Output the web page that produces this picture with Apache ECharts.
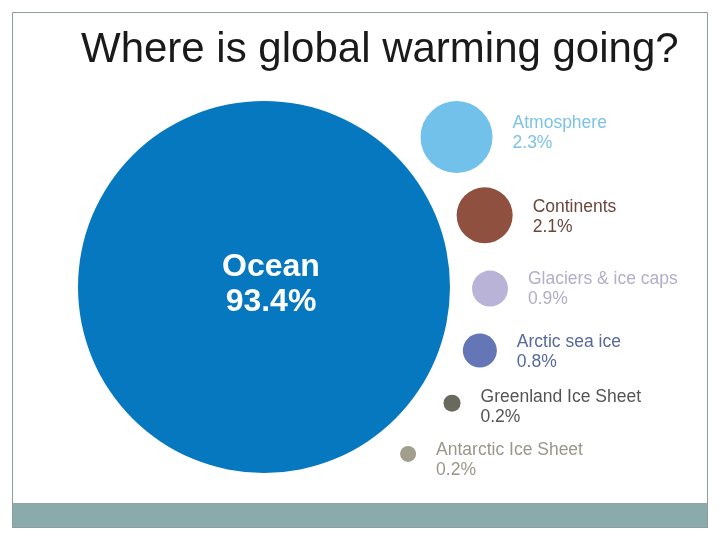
<!DOCTYPE html>
<html>
<head>
<meta charset="utf-8">
<script src="https://cdn.jsdelivr.net/npm/echarts@6/dist/echarts.min.js"></script>
<style>html,body{margin:0;padding:0;background:#fff}#c{width:720px;height:540px}</style>
</head>
<body>
<div id="c"></div>
<script>
// ---- data ----
const titleText = 'Where is global warming going?';
const categories = ['Ocean', 'Atmosphere', 'Continents', 'Glaciers & ice caps', 'Arctic sea ice', 'Greenland Ice Sheet', 'Antarctic Ice Sheet'];
const shares = [93.4, 2.3, 2.1, 0.9, 0.8, 0.2, 0.2];

// ---- layout (bubble placement around the ocean bubble, polar: distance px, angle deg clockwise from right) ----
const layoutDist  = [0, 244, 232, 226, 225, 221, 220.5];
const layoutAngle = [0, -37.9, -18, 0.4, 16.4, 31.7, 49.2];
const layoutDiam  = [372, 72, 56, 36, 34, 17, 16];
const labelDy     = [-2.5, -4, 2, 1, 2, 4, 6];

// ---- styles ----
const FONT = "'Liberation Sans', Arial, Helvetica, sans-serif";
const bubbleColors = ['#0578c0', '#71c1ea', '#8f5040', '#b9b3d8', '#6476b6', '#6a695e', '#a19e8d'];
const labelColors  = ['#ffffff', '#7cc3e6', '#6a463d', '#b2aecb', '#56689e', '#545454', '#9a978a'];

const seriesData = categories.map((name, i) => ({
  name: name,
  value: [layoutDist[i], (layoutAngle[i] + 360) % 360, shares[i]],
  symbolSize: layoutDiam[i],
  itemStyle: { color: bubbleColors[i], opacity: 1 },
  label: i === 0 ? {
    show: true, position: 'inside', offset: [7, labelDy[i]],
    color: labelColors[i], fontSize: 32, fontWeight: 'bold', lineHeight: 35, align: 'center',
    fontFamily: FONT
  } : {
    show: true, position: 'right', distance: 20, offset: [0, labelDy[i]],
    color: labelColors[i], fontSize: 17.5, lineHeight: 20, align: 'left',
    fontFamily: FONT
  }
}));

const chart = echarts.init(document.getElementById('c'), null, { renderer: 'canvas' });
chart.setOption({
  animation: false,
  backgroundColor: '#ffffff',
  title: {
    text: titleText, left: 81, top: 25, padding: 0,
    textStyle: { fontSize: 42, fontWeight: 'normal', color: '#1a1a1a', fontFamily: FONT, lineHeight: 50 }
  },
  graphic: [
    { type: 'rect', shape: { x: 12.5, y: 12.5, width: 695, height: 515 }, style: { fill: 'none', stroke: '#8e9c9c', lineWidth: 1 }, z: 100 },
    { type: 'rect', shape: { x: 12, y: 503, width: 696, height: 25 }, style: { fill: '#8aabab' }, z: 99 }
  ],
  polar: { center: [264, 287], radius: 300 },
  radiusAxis: { show: false, type: 'value', min: 0, max: 300 },
  angleAxis: { show: false, type: 'value', min: 0, max: 360, startAngle: 0, clockwise: true },
  series: [{
    type: 'scatter',
    coordinateSystem: 'polar',
    data: seriesData,
    label: {
      formatter: p => p.name + '\n' + p.value[2].toFixed(1) + '%'
    },
    emphasis: { disabled: true }
  }]
});
</script>
</body>
</html>
